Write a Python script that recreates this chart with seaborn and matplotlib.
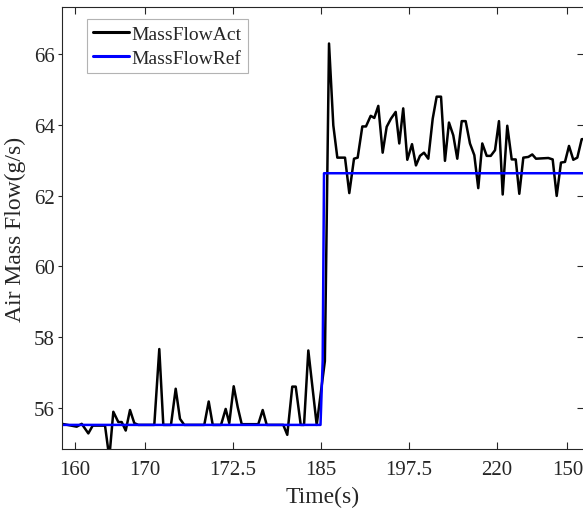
import matplotlib
matplotlib.use("Agg")
import matplotlib.pyplot as plt
import matplotlib.lines as mlines
import seaborn as sns
import pandas as pd

# ---- data ----
act_time = [148.21, 150.30, 151.01, 151.95, 152.57, 154.32, 154.93, 155.50, 156.21, 156.69,
            157.26, 157.87, 158.48, 159.05, 161.32, 162.03, 162.60, 163.69, 164.36, 164.97,
            165.58, 168.42, 169.05, 169.62, 170.80, 171.46, 171.97, 172.60, 173.17, 173.74,
            176.09, 176.72, 177.29, 179.64, 180.21, 180.92, 181.41, 182.12, 182.59, 183.20,
            184.39, 185.55, 186.14, 186.75, 187.32, 188.41, 189.02, 189.69, 190.21, 190.87,
            191.39, 192.06, 192.57, 193.14, 193.76, 194.33, 194.94, 195.61, 196.12, 196.68,
            197.26, 197.93, 198.49, 199.06, 199.63, 200.24, 200.87, 201.43, 202.05, 202.61,
            203.18, 203.79, 204.36, 204.99, 205.55, 206.16, 206.78, 207.34, 207.91, 208.54,
            209.11, 209.72, 210.28, 210.81, 211.46, 212.09, 212.66, 213.17, 213.74, 214.45,
            215.01, 215.54, 217.29, 217.91, 218.48, 219.09, 219.66, 220.23, 220.84, 221.41,
            222.03, 222.64]
act_flow = [55.56, 55.48, 55.56, 55.29, 55.51, 55.51, 54.60, 55.90, 55.61, 55.61,
            55.37, 55.95, 55.58, 55.53, 55.53, 57.67, 55.53, 55.53, 56.55, 55.70,
            55.53, 55.53, 56.19, 55.53, 55.53, 55.98, 55.58, 56.62, 56.03, 55.55,
            55.55, 55.95, 55.53, 55.53, 55.25, 56.61, 56.61, 55.53, 55.53, 57.63,
            55.53, 57.33, 66.29, 63.98, 63.07, 63.07, 62.07, 63.04, 63.07, 63.95,
            63.95, 64.25, 64.19, 64.53, 63.21, 63.94, 64.17, 64.36, 63.47, 64.46,
            63.01, 63.45, 62.85, 63.12, 63.21, 63.04, 64.17, 64.79, 64.79, 62.98,
            64.06, 63.70, 63.04, 64.10, 64.10, 63.47, 63.14, 62.21, 63.47, 63.12,
            63.12, 63.28, 64.10, 62.03, 63.97, 63.02, 63.02, 62.05, 63.07, 63.09,
            63.16, 63.04, 63.06, 63.02, 61.99, 62.93, 62.95, 63.40, 63.01, 63.07,
            63.59, 63.60]

ref_time = [148.21, 184.93, 185.24, 185.43, 222.36]
ref_flow = [55.53, 55.53, 57.34, 62.63, 62.63]

tick_pos = [150, 160, 172.5, 185, 197.5, 210, 220]
tick_labels = ["160", "170", "172.5", "185", "197.5", "220", "150"]
y_ticks = [56, 58, 60, 62, 64, 66]

df_act = pd.DataFrame({"t": act_time, "v": act_flow})
df_ref = pd.DataFrame({"t": ref_time, "v": ref_flow})

sns.set_theme(style="white")
plt.rcParams["font.family"] = ["Liberation Serif", "DejaVu Serif"]

fig = plt.figure(figsize=(5.83, 5.10), dpi=100)
ax = fig.add_axes([62 / 583, 60 / 510, 522 / 583, 442 / 510])

sns.lineplot(data=df_act, x="t", y="v", ax=ax, color="black", linewidth=1.8,
             estimator=None, sort=False, label="MassFlowAct")
sns.lineplot(data=df_ref, x="t", y="v", ax=ax, color="#0000ff", linewidth=1.8,
             estimator=None, sort=False, label="MassFlowRef")

ax.set_xlim(148.21, 222.36)
ax.set_ylim(54.85, 67.32)
ax.set_xticks(tick_pos)
ax.set_xticklabels(tick_labels)
ax.set_yticks(y_ticks)

ax.set_xlabel("Time(s)", fontsize=17, color="#262626", labelpad=5)
ax.set_ylabel("Air Mass Flow(g/s)", fontsize=17, color="#262626", labelpad=6)

for s in ax.spines.values():
    s.set_color("#262626")
    s.set_linewidth(0.8)

ax.tick_params(axis="x", which="both", direction="in", length=5, width=0.8,
               top=True, bottom=True, labelsize=15, colors="#262626", pad=8)
ax.tick_params(axis="y", which="both", direction="in", length=5, width=0.8,
               left=True, right=True, labelsize=15, colors="#262626", pad=5)

leg = ax.legend(loc="upper left", bbox_to_anchor=(0.047, 0.973), borderaxespad=0,
                fontsize=14, handlelength=1.85, handletextpad=0.15,
                borderpad=0.32, labelspacing=0.34, frameon=True, fancybox=False)
leg.get_frame().set_edgecolor("#a0a0a0")
leg.get_frame().set_linewidth(0.8)
for line in leg.get_lines():
    line.set_linewidth(2.2)

fig.canvas.draw()
# left y ticks point outward (short), right ones inward, as in the reference
for t in ax.yaxis.get_major_ticks():
    t.tick1line.set_marker(mlines.TICKLEFT)
    t.tick1line.set_markersize(3)

fig.savefig("out.png", dpi=100)
